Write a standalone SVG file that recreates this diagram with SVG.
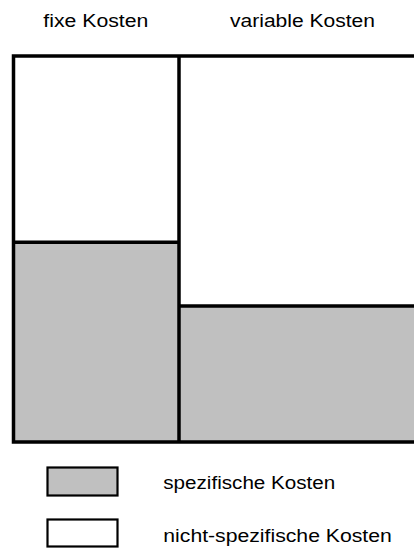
<svg xmlns="http://www.w3.org/2000/svg" width="414" height="548" viewBox="0 0 414 548">
<style>
.t{font-family:"Liberation Sans",Arial,sans-serif;font-size:17.5px;fill:#000}
.ln{stroke:#000;stroke-width:3.5;fill:none}
.gray{fill:#c0c0c0}
.lg{stroke:#000;stroke-width:2.2}
</style>
<rect width="414" height="548" fill="#fff"/>
<g id="chart">
<rect class="gray" x="13.5" y="242.3" width="165.5" height="199.7"/>
<rect class="gray" x="179" y="306" width="240" height="136"/>
<g id="connectors">
<path class="ln" d="M440 56 H13.5 V442 H440"/>
<path class="ln" d="M179 56 V442"/>
<path class="ln" d="M13.5 242.3 H179"/>
<path class="ln" d="M179 306 H440"/>
</g>
</g>
<g id="header-fix"><text class="t" x="43.3" y="27" textLength="105" lengthAdjust="spacingAndGlyphs">fixe Kosten</text></g>
<g id="header-var"><text class="t" x="230" y="27" textLength="145" lengthAdjust="spacingAndGlyphs">variable Kosten</text></g>
<g id="legend-spez">
<rect class="gray lg" x="47.5" y="467.5" width="70" height="28"/>
<text class="t" x="163.3" y="489" textLength="172" lengthAdjust="spacingAndGlyphs">spezifische Kosten</text>
</g>
<g id="legend-nicht">
<rect class="lg" fill="#fff" x="47.5" y="519.5" width="70" height="27"/>
<text class="t" x="163.3" y="542" textLength="228.5" lengthAdjust="spacingAndGlyphs">nicht-spezifische Kosten</text>
</g>
</svg>
